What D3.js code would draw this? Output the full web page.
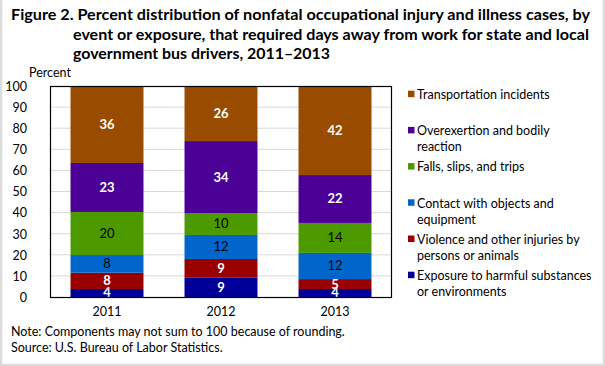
<!DOCTYPE html>
<html><head><meta charset="utf-8">
<script src="https://cdn.jsdelivr.net/npm/d3@7"></script>
<style>
html,body{margin:0;padding:0;background:#fff;}
svg{display:block;font-family:Lato,"Open Sans",sans-serif;}
</style></head>
<body>
<svg id="c" width="605" height="366"></svg>
<script>
const years = ["2011","2012","2013"];
const categories = ["Exposure to harmful substances or environments","Violence and other injuries by persons or animals","Contact with objects and equipment","Falls, slips, and trips","Overexertion and bodily reaction","Transportation incidents"];
const exposure      = [3.8, 9.1, 3.8];
const violence      = [7.7, 8.9, 4.7];
const contact       = [8.4, 11.4, 12.4];
const falls         = [20.4, 10.4, 14.2];
const overexertion  = [23.2, 34.1, 22.7];
const transport     = [36.5, 26.1, 42.2];
const labelValues = [[4,9,4],[8,9,5],[8,12,12],[20,10,14],[23,34,22],[36,26,42]];
const yTicks = [0,10,20,30,40,50,60,70,80,90,100];
const colors = ["#000099","#990000","#0066cc","#4c9900","#4b0096","#994c00"];
const labelColors = ["#fff","#fff","#000","#000","#fff","#fff"];
const legendLines = [["Transportation incidents"],["Overexertion and bodily","reaction"],["Falls, slips, and trips"],["Contact with objects and","equipment"],["Violence and other injuries by","persons or animals"],["Exposure to harmful substances","or environments"]];
const legendOrder = [5,4,3,2,1,0];

const series = [exposure, violence, contact, falls, overexertion, transport];
const svg = d3.select("#c");
const pLeft = 50, pRight = 392, pTop = 86, pBottom = 297;

// outer border
svg.append("path").attr("d","M1,0V365H604V0").attr("fill","none").attr("stroke","#dcdcdc").attr("stroke-width",2.5);

// title
const title = [
  {t:"Figure 2. Percent distribution of nonfatal occupational injury and illness cases, by", x:11, y:20, w:579},
  {t:"event or exposure, that required days away from work for state and local", x:73, y:40, w:516},
  {t:"government bus drivers, 2011\u20132013", x:73, y:59, w:257}
];
svg.selectAll("text.title").data(title).join("text").attr("class","title")
  .attr("x",d=>d.x).attr("y",d=>d.y).text(d=>d.t)
  .attr("font-size",15.5).attr("font-weight","bold").attr("fill","#000")
  .attr("textLength",d=>d.w).attr("lengthAdjust","spacingAndGlyphs");

const x = d3.scaleBand().domain(years).range([pLeft,pRight]).paddingInner(0.36).paddingOuter(0.18);
const y = d3.scaleLinear().domain([0,100]).range([pBottom,pTop]);

// gridlines
svg.append("g").selectAll("line").data(yTicks.filter(d=>d>0 && d<100)).join("line")
  .attr("x1",pLeft).attr("x2",pRight).attr("y1",d=>y(d)).attr("y2",d=>y(d))
  .attr("stroke","#d9d9d9").attr("stroke-width",1);

// stacks
const stacked = years.map((yr,i)=>{
  let acc=0;
  return series.map((s,k)=>{const y0=acc; acc+=s[i]; return {yr, k, y0, y1:acc, label:labelValues[k][i]};});
}).flat();

svg.append("g").selectAll("rect").data(stacked).join("rect")
  .attr("x",d=>x(d.yr)).attr("width",x.bandwidth())
  .attr("y",d=>y(d.y1)).attr("height",d=>y(d.y0)-y(d.y1))
  .attr("fill",d=>colors[d.k]);

svg.append("g").selectAll("text").data(stacked).join("text")
  .attr("x",d=>x(d.yr)+x.bandwidth()/2).attr("y",d=>(y(d.y0)+y(d.y1))/2+4.5)
  .attr("text-anchor","middle").attr("font-size",13)
  .attr("font-weight",d=>labelColors[d.k]==="#fff"?"bold":"normal")
  .attr("fill",d=>labelColors[d.k]).text(d=>d.label);

// frame
svg.append("rect").attr("x",pLeft+0.5).attr("y",pTop+0.5).attr("width",pRight-pLeft-1).attr("height",pBottom-pTop)
  .attr("fill","none").attr("stroke","#000").attr("stroke-width",1.2);

// y axis
const yAxis = d3.axisLeft(y).tickValues(yTicks).tickSize(0).tickPadding(0);
const ya = svg.append("g").attr("transform",`translate(27,0)`).call(yAxis);
ya.select(".domain").remove();
ya.selectAll("text").attr("font-size",12.5).attr("fill","#000").attr("font-family","Lato,sans-serif").attr("dy","0.35em");

svg.append("text").attr("x",29).attr("y",77).attr("font-size",12.5).text("Percent");

// x axis
const xAxis = d3.axisBottom(x).tickSize(0).tickPadding(0);
const xa = svg.append("g").attr("transform",`translate(0,305)`).call(xAxis);
xa.select(".domain").remove();
xa.selectAll("text").attr("font-size",12.5).attr("fill","#000").attr("font-family","Lato,sans-serif").attr("dy","0.9em");

// legend
const lg = svg.append("g");
legendOrder.forEach((k,i)=>{
  const by = 99 + i*36.2;
  lg.append("rect").attr("x",408).attr("y",by-8.3).attr("width",6.5).attr("height",6.5).attr("fill",colors[k]);
  legendLines[i].forEach((ln,j)=>{
    lg.append("text").attr("x",417).attr("y",by+j*16).attr("font-size",12.5).attr("fill","#000").text(ln);
  });
});

// notes
svg.append("text").attr("x",11).attr("y",336).attr("font-size",12.5).text("Note: Components may not sum to 100 because of rounding.");
svg.append("text").attr("x",11).attr("y",352).attr("font-size",12.5).text("Source:  U.S. Bureau  of Labor Statistics.");
</script>
</body></html>
